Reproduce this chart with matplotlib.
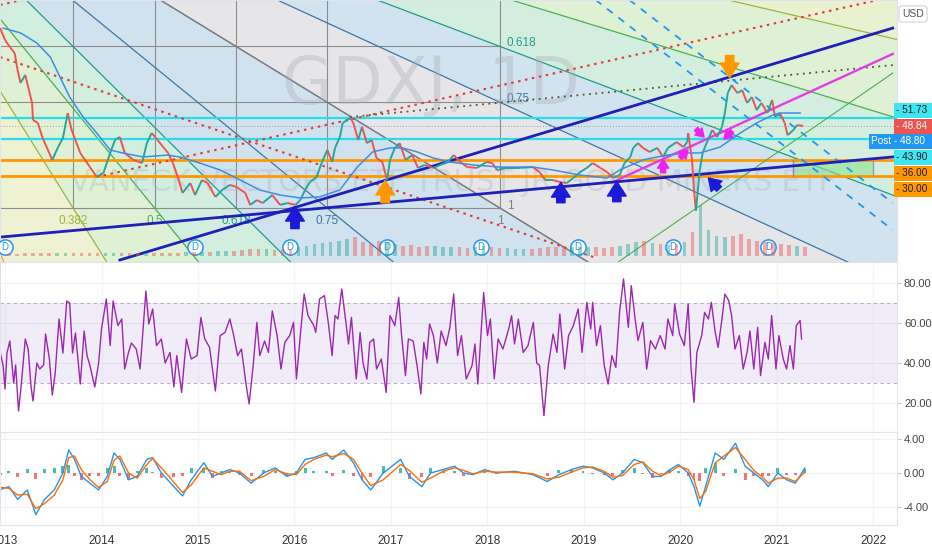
import numpy as np
import matplotlib.pyplot as plt
from matplotlib.collections import LineCollection
from matplotlib.patches import Rectangle, Polygon

plt.rcParams['font.family'] = ['Liberation Sans', 'DejaVu Sans']

# ---- price (close), fractional years ----
price_t = [2012.95, 2013.00, 2013.05, 2013.10, 2013.13, 2013.16, 2013.21, 2013.24, 2013.28, 2013.29,
           2013.34, 2013.39, 2013.49, 2013.55, 2013.60, 2013.65, 2013.69, 2013.78, 2013.88, 2013.95,
           2014.02, 2014.09, 2014.14, 2014.19, 2014.24, 2014.33, 2014.42, 2014.47, 2014.52, 2014.58,
           2014.64, 2014.69, 2014.74, 2014.79, 2014.84, 2014.92, 2014.97, 2015.04, 2015.10, 2015.18,
           2015.25, 2015.33, 2015.40, 2015.49, 2015.54, 2015.61, 2015.67, 2015.77, 2015.85, 2015.93,
           2016.01, 2016.06, 2016.11, 2016.16, 2016.23, 2016.28, 2016.34, 2016.39, 2016.42, 2016.47,
           2016.50, 2016.58, 2016.61, 2016.66, 2016.70, 2016.75, 2016.80, 2016.85, 2016.91, 2016.96,
           2016.99, 2017.04, 2017.09, 2017.15, 2017.22, 2017.28, 2017.35, 2017.44, 2017.51, 2017.59,
           2017.65, 2017.72, 2017.79, 2017.89, 2017.99, 2018.05, 2018.10, 2018.20, 2018.34, 2018.47,
           2018.54, 2018.60, 2018.68, 2018.75, 2018.82, 2018.89, 2018.96, 2019.03, 2019.09, 2019.17,
           2019.24, 2019.30, 2019.37, 2019.42, 2019.48, 2019.51, 2019.56, 2019.61, 2019.68, 2019.76,
           2019.82, 2019.87, 2019.96, 2020.03, 2020.07, 2020.08, 2020.12, 2020.14, 2020.16, 2020.20,
           2020.23, 2020.27, 2020.33, 2020.38, 2020.43, 2020.46, 2020.49, 2020.53, 2020.59, 2020.64,
           2020.69, 2020.74, 2020.79, 2020.84, 2020.90, 2020.95, 2020.98, 2021.03, 2021.08, 2021.11,
           2021.17, 2021.21, 2021.27]
price_v = [85.6, 81.1, 78.5, 76.2, 69.9, 65.0, 68.0, 63.5, 57.5, 51.1,
           50.0, 44.3, 36.1, 40.9, 44.3, 53.7, 47.3, 38.7, 33.4, 29.7,
           31.2, 38.7, 43.6, 44.7, 38.7, 36.1, 34.9, 42.4, 46.2, 43.6,
           40.9, 38.7, 34.9, 29.7, 23.7, 27.4, 22.9, 28.5, 27.4, 22.2,
           24.8, 26.7, 25.9, 23.7, 19.2, 21.0, 19.9, 22.9, 19.2, 19.9,
           19.2, 21.0, 24.8, 27.8, 29.7, 34.9, 39.8, 35.3, 40.6, 44.7,
           50.0, 51.8, 50.0, 43.6, 48.5, 42.4, 43.6, 36.8, 35.3, 28.5,
           36.1, 40.6, 42.4, 36.1, 37.9, 33.1, 34.2, 33.1, 34.2, 35.3,
           37.9, 35.3, 33.4, 33.1, 35.3, 34.9, 32.3, 33.1, 33.1, 33.4,
           31.5, 28.5, 28.5, 27.8, 27.4, 29.3, 31.5, 33.1, 34.9, 33.1,
           31.5, 29.3, 30.4, 34.9, 37.2, 40.6, 42.4, 40.6, 39.1, 40.6,
           37.2, 40.6, 42.8, 40.9, 42.8, 46.2, 36.1, 24.8, 17.0, 32.3,
           38.7, 42.4, 47.3, 44.7, 48.5, 53.7, 61.2, 64.2, 61.2, 62.3,
           57.5, 59.7, 54.8, 57.5, 53.7, 58.6, 52.2, 53.7, 50.0, 45.4,
           47.3, 49.2, 48.84]

# ---- moving average (blue) ----
ma_t = [2012.98, 2013.16, 2013.33, 2013.47, 2013.57, 2013.67, 2013.81, 2013.95, 2014.09, 2014.22,
        2014.43, 2014.68, 2014.81, 2015.02, 2015.23, 2015.44, 2015.64, 2015.85, 2016.06, 2016.26,
        2016.47, 2016.65, 2016.81, 2016.99, 2017.12, 2017.27, 2017.44, 2017.61, 2017.85, 2018.13,
        2018.47, 2018.68, 2018.96, 2019.24, 2019.37, 2019.61, 2019.86, 2020.07, 2020.20, 2020.41,
        2020.62, 2020.79, 2020.96, 2021.03, 2021.24]
ma_v = [85.6, 83.8, 80.0, 74.7, 67.2, 59.7, 52.2, 46.2, 39.8, 38.7,
        37.2, 37.9, 37.2, 34.9, 32.3, 28.5, 24.8, 22.9, 21.8, 22.2,
        24.8, 33.4, 39.1, 40.6, 40.6, 39.1, 36.8, 35.3, 34.2, 33.4,
        33.4, 32.3, 30.4, 29.3, 32.3, 36.1, 37.9, 38.7, 38.7, 40.9,
        46.2, 50.0, 53.0, 53.7, 53.7]

# ---- monthly volume (relative), Jan 2013 .. Apr 2021 ----
vol_start = 2013.0
volume = [2, 2, 3, 3, 3, 3, 3, 3, 3, 3, 3, 3,
          3, 3, 3, 3, 3, 3, 4, 4, 4, 4, 5, 5,
          5, 5, 6, 6, 6, 7, 8, 8, 8, 7, 8, 8,
          10, 12, 14, 15, 16, 18, 20, 22, 16, 14, 18, 16,
          14, 12, 13, 11, 12, 12, 11, 10, 10, 9, 10, 12,
          10, 9, 9, 8, 8, 8, 9, 10, 10, 10, 11, 10,
          10, 10, 9, 10, 12, 14, 16, 18, 15, 14, 13, 14,
          16, 28, 60, 30, 24, 22, 24, 26, 20, 18, 17, 15,
          14, 13, 12, 10]

# ---- RSI ----
rsi_t = [2012.95, 2012.98, 2013.00, 2013.02, 2013.05, 2013.09, 2013.11, 2013.14, 2013.17, 2013.21,
         2013.24, 2013.27, 2013.29, 2013.33, 2013.36, 2013.40, 2013.42, 2013.46, 2013.49, 2013.52,
         2013.56, 2013.60, 2013.64, 2013.67, 2013.70, 2013.73, 2013.78, 2013.82, 2013.85, 2013.88,
         2013.93, 2013.97, 2014.00, 2014.05, 2014.09, 2014.12, 2014.17, 2014.21, 2014.24, 2014.28,
         2014.31, 2014.36, 2014.40, 2014.46, 2014.49, 2014.53, 2014.57, 2014.62, 2014.66, 2014.71,
         2014.75, 2014.78, 2014.83, 2014.88, 2014.93, 2014.99, 2015.03, 2015.07, 2015.12, 2015.18,
         2015.23, 2015.28, 2015.33, 2015.37, 2015.41, 2015.45, 2015.50, 2015.53, 2015.57, 2015.61,
         2015.64, 2015.69, 2015.73, 2015.77, 2015.82, 2015.86, 2015.90, 2015.95, 2015.99, 2016.02,
         2016.06, 2016.10, 2016.14, 2016.20, 2016.22, 2016.26, 2016.31, 2016.35, 2016.39, 2016.42,
         2016.45, 2016.49, 2016.52, 2016.56, 2016.59, 2016.64, 2016.68, 2016.71, 2016.75, 2016.78,
         2016.82, 2016.85, 2016.90, 2016.95, 2016.99, 2017.04, 2017.08, 2017.11, 2017.15, 2017.18,
         2017.23, 2017.27, 2017.31, 2017.34, 2017.37, 2017.40, 2017.44, 2017.48, 2017.52, 2017.57,
         2017.61, 2017.65, 2017.69, 2017.73, 2017.78, 2017.84, 2017.87, 2017.90, 2017.96, 2018.00,
         2018.03, 2018.07, 2018.11, 2018.16, 2018.22, 2018.25, 2018.28, 2018.32, 2018.37, 2018.42,
         2018.475, 2018.51, 2018.54, 2018.585, 2018.63, 2018.68, 2018.72, 2018.75, 2018.80, 2018.84,
         2018.89, 2018.94, 2018.98, 2019.03, 2019.07, 2019.09, 2019.13, 2019.17, 2019.21, 2019.25,
         2019.29, 2019.33, 2019.37, 2019.41, 2019.46, 2019.49, 2019.53, 2019.56, 2019.61, 2019.65,
         2019.69, 2019.74, 2019.79, 2019.84, 2019.87, 2019.92, 2019.94, 2019.99, 2020.04, 2020.08,
         2020.11, 2020.14, 2020.17, 2020.22, 2020.25, 2020.29, 2020.32, 2020.36, 2020.39, 2020.43,
         2020.46, 2020.50, 2020.53, 2020.565, 2020.61, 2020.65, 2020.69, 2020.72, 2020.76, 2020.80,
         2020.83, 2020.875, 2020.91, 2020.945, 2020.99, 2021.02, 2021.065, 2021.10, 2021.135, 2021.17,
         2021.20, 2021.24, 2021.255]
rsi_v = [45.3, 38.7, 27, 45, 51, 30, 39, 16, 30, 52,
         47, 28, 21, 40, 37, 39, 54.5, 42, 24, 35,
         62, 45, 71, 70, 45, 55, 29.5, 56, 43.7, 38.7,
         28, 40, 57, 72, 48.7, 71, 58.7, 62, 37, 45.3,
         50, 47, 37, 76, 59.5, 67, 48.7, 52, 40, 45.3,
         28, 43.7, 25.3, 52, 42, 43.7, 62.8, 52, 47.8, 26,
         53.7, 55.3, 62, 53.7, 43.7, 47, 28.7, 19.5, 37.8, 60.3,
         43.7, 51, 45.3, 66, 53.7, 37, 50.3, 53.7, 60.3, 32,
         53.7, 74.5, 63.7, 58.7, 55.3, 72, 73.7, 60.3, 43.7, 63.7,
         62, 77, 65.3, 49.5, 62.8, 32, 55.3, 40, 32, 50.3,
         52, 37, 42, 25.3, 63.7, 58.7, 72.8, 53.7, 33.7, 52,
         51, 38.7, 24.5, 50.3, 42, 59.5, 53.7, 40, 56, 48.7,
         57.8, 74.5, 43.7, 53.7, 32, 38.7, 49.5, 29.5, 75.3, 53.7,
         62, 32, 52, 47, 57, 63.7, 49.5, 62, 45.3, 48.7,
         60.3, 40, 38.7, 13.7, 38.7, 54.5, 45.3, 64.5, 37, 53.7,
         58.7, 67, 45.3, 70.3, 57, 70.3, 48.7, 58.7, 38.7, 29.5,
         43.7, 37.8, 66, 82, 57.8, 78.7, 62, 51.2, 60.3, 37,
         51.2, 47, 53.7, 47, 62, 53.7, 69.5, 54.5, 48.7, 69.5,
         37, 20.3, 45.3, 53.7, 65.3, 62, 70.3, 55.3, 47.8, 62,
         74.5, 71.2, 63.7, 47, 53.7, 37, 45.3, 56, 37, 57.8,
         33.7, 50.3, 42, 63.7, 37, 53.7, 42, 37, 48.7, 37,
         58.7, 61.2, 52]

# ---- MACD ----
macd_t = [2012.95, 2013.04, 2013.13, 2013.23, 2013.32, 2013.41, 2013.51, 2013.60, 2013.66, 2013.72,
          2013.79, 2013.88, 2013.97, 2014.06, 2014.13, 2014.19, 2014.28, 2014.37, 2014.47, 2014.53,
          2014.62, 2014.75, 2014.84, 2014.93, 2015.06, 2015.15, 2015.24, 2015.33, 2015.43, 2015.55,
          2015.68, 2015.80, 2015.92, 2016.02, 2016.11, 2016.20, 2016.33, 2016.39, 2016.51, 2016.61,
          2016.70, 2016.79, 2016.92, 2017.10, 2017.19, 2017.32, 2017.41, 2017.54, 2017.66, 2017.75,
          2017.85, 2017.97, 2018.09, 2018.28, 2018.47, 2018.62, 2018.74, 2018.87, 2018.99, 2019.09,
          2019.21, 2019.30, 2019.40, 2019.52, 2019.61, 2019.71, 2019.80, 2019.89, 2019.98, 2020.08,
          2020.14, 2020.20, 2020.26, 2020.36, 2020.45, 2020.57, 2020.67, 2020.76, 2020.85, 2020.91,
          2021.01, 2021.10, 2021.19, 2021.29]
macd_v = [-1.96, -1.6, -3.1, -2.0, -4.9, -3.1, -2.0, 0.0, 2.7, 1.6,
          -0.4, -1.2, -2.0, -0.4, 2.35, 1.6, -0.8, -0.4, 1.6, 1.8,
          0.0, -1.6, -2.7, -0.8, 1.2, -0.4, 0.0, 0.4, 0.0, -1.2,
          0.0, 0.6, -0.4, 0.0, 1.6, 1.8, 2.35, 1.6, 2.7, 1.2,
          -0.8, -2.0, 0.0, 1.6, -0.4, -1.6, 0.0, 0.4, 0.8, 0.0,
          -0.2, 0.4, 0.0, 0.2, -0.2, -1.0, -0.2, 0.4, 0.8, 0.6,
          0.0, -0.8, 0.0, 1.6, 1.2, -0.4, -0.4, 0.4, 1.0, 0.0,
          -1.6, -3.9, -1.6, 2.35, 1.6, 3.5, 0.8, 0.0, -0.8, -1.6,
          0.0, -0.8, -1.2, 0.6]
signal_v = [-1.7, -1.8, -2.6, -2.5, -4.2, -3.6, -2.6, -0.8, 1.8, 2.0,
            0.4, -0.8, -1.7, -1.0, 1.5, 2.0, 0.0, -0.6, 1.0, 1.7,
            0.6, -1.1, -2.3, -1.4, 0.6, 0.2, -0.2, 0.2, 0.2, -0.9,
            -0.4, 0.4, -0.1, -0.2, 1.0, 1.6, 2.1, 1.9, 2.3, 1.6,
            0.0, -1.5, -0.8, 1.0, 0.3, -1.1, -0.6, 0.2, 0.6, 0.3,
            -0.1, 0.2, 0.1, 0.1, -0.1, -0.7, -0.5, 0.1, 0.6, 0.7,
            0.2, -0.5, -0.3, 1.0, 1.3, 0.2, -0.3, 0.1, 0.8, 0.4,
            -0.8, -3.0, -2.2, 1.2, 2.0, 3.0, 1.6, 0.3, -0.5, -1.2,
            -0.6, -0.6, -1.0, 0.1]

# ---- drawing tools (year, price) ----
fan_a = (2010.97, 176.9)
fan_b = (2018.13, 18.0)
fan_levels = [0.25, 0.382, 0.5, 0.618, 0.75, 1.0]
fan_colors = {0.25: '#f0a030', 0.382: '#9db43c', 0.5: '#4caf50', 0.618: '#1f9e8a',
              0.75: '#3d76a8', 1.0: '#7b7d85'}
region_colors = ['#f4efdc', '#eef1d2', '#def1d4', '#d2eedf', '#cfe2ee', '#d0e2ee',
                 '#e6e6e9', '#d0e3ef', '#d3eede', '#def1d4', '#eaf1d0', '#f3f0da']

red_dotted = [((2012.95, 74.7), (2019.10, -0.4)),
              ((2013.95, 29.7), (2022.05, 96.2)),
              ((2012.95, 94.3), (2013.18, 96.2))]
olive_dotted = ((2016.575, 52.2), (2022.20, 71.7))
navy_lines = [((2012.95, 7.1), (2022.20, 37.2)),
              ((2014.19, -1.5), (2022.20, 85.6))]
magenta_line = ((2019.30, 27.8), (2022.20, 75.9))
green_line = ((2019.34, -2.6), (2022.20, 68.7))
dashed_lines = [((2019.12, 96.2), (2022.20, 9.8)),
                ((2019.47, 96.2), (2022.20, 19.9))]
cyan_levels = [51.73, 43.90]
orange_levels = [36.00, 30.00]
box_t = (2021.17, 2022.00)
last_price = 48.84
div_dates = [2013.0, 2014.97, 2015.95, 2016.96, 2017.93, 2018.94, 2019.92, 2020.91]

# arrows: (tail, tip, colour, size)
arrows = [((2016.005, 10.3), (2016.005, 18.6), '#1a1ad8', 15),
          ((2018.76, 20.0), (2018.76, 27.6), '#1a1ad8', 15),
          ((2019.34, 20.4), (2019.34, 28.0), '#1a1ad8', 15),
          ((2020.40, 25.2), (2020.29, 29.3), '#1a1ad8', 12),
          ((2016.94, 20.0), (2016.94, 28.4), '#ff9800', 15),
          ((2020.51, 75.3), (2020.51, 67.0), '#ff9800', 15),
          ((2019.82, 31.3), (2019.82, 36.3), '#ee22ee', 9),
          ((2019.995, 36.8), (2020.078, 39.8), '#ee22ee', 8),
          ((2020.161, 47.7), (2020.244, 44.7), '#ee22ee', 8),
          ((2020.534, 46.9), (2020.451, 43.9), '#ee22ee', 8)]

years = list(range(2013, 2023))

# ---------------------------------------------------------------
FW, FH = 932, 550
fig = plt.figure(figsize=(FW / 100, FH / 100), dpi=100)
W = 897 / FW
ax = fig.add_axes([0, 1 - 262 / FH, W, 262 / FH])
ax_rsi = fig.add_axes([0, 1 - 432 / FH, W, 170 / FH], sharex=ax)
ax_macd = fig.add_axes([0, 1 - 525 / FH, W, 93 / FH], sharex=ax)

XMIN, XMAX = 2012.948, 2022.244
ax.set_xlim(XMIN, XMAX)
ax.set_ylim(-2.25, 96.15)
ax_rsi.set_ylim(5.5, 90.5)
ax_macd.set_ylim(-6.12, 4.82)

for a in (ax, ax_rsi, ax_macd):
    for s in a.spines.values():
        s.set_color('#e0e3eb')
        s.set_linewidth(0.8)
    a.yaxis.tick_right()
    a.tick_params(axis='y', labelsize=8, colors='#444444', length=3, pad=2)
    a.tick_params(axis='y', color='#c8c8c8')
    a.tick_params(axis='x', length=0)
    a.set_facecolor('white')
ax.tick_params(axis='x', labelbottom=False)
ax_rsi.tick_params(axis='x', labelbottom=False)
ax_macd.set_xticks(years)
ax_macd.set_xticklabels([str(y) for y in years])
ax_macd.tick_params(axis='x', labelsize=8.5, colors='#333333', pad=7)

# --- fib speed resistance fan ---
tA, pA = fan_a
tB, pB = fan_b
rays = [(tA, pB)]
for lv in fan_levels:
    rays.append((tA + lv * (tB - tA), pB))
for lv in reversed(fan_levels[:-1]):
    rays.append((tB, pA + lv * (pB - pA)))
rays.append((tB, pA))


def far(pt, k=12):
    return (tA + k * (pt[0] - tA), pA + k * (pt[1] - pA))


for i in range(len(rays) - 1):
    poly = Polygon([fan_a, far(rays[i]), far(rays[i + 1])], closed=True,
                   facecolor=region_colors[i], edgecolor='none', zorder=0)
    ax.add_patch(poly)

for lv in fan_levels:
    c = fan_colors[lv]
    pt = (tA + lv * (tB - tA), pB)
    f = far(pt)
    ax.plot([tA, f[0]], [pA, f[1]], color=c, lw=0.9, zorder=1.2)
    pt2 = (tB, pA + lv * (pB - pA))
    f2 = far(pt2)
    ax.plot([tA, f2[0]], [pA, f2[1]], color=c, lw=0.9, zorder=1.2)
    # grid of the fan box
    ax.plot([pt[0], pt[0]], [pA, pB], color='#8c8c8c', lw=0.8, zorder=1.1)
    ax.plot([tA, tB], [pt2[1], pt2[1]], color='#8c8c8c', lw=0.8, zorder=1.1)
    if lv >= 0.382:
        ax.text(pt[0], 13.3, ('%g' % lv), color=c, fontsize=8.5, ha='center', va='center', zorder=1.3)
    if lv >= 0.618:
        ax.text(tB + 0.07, pt2[1] + (1.2 if lv < 1 else 0.6), ('%g' % lv), color=c, fontsize=8.5,
                ha='left', va='center', zorder=1.3)

# watermark
ax.text(0.48, 0.67, 'GDXJ, 1D', transform=ax.transAxes, fontsize=47, color='#a8abb3',
        alpha=0.35, ha='center', va='center', zorder=1.5, family='DejaVu Sans')
ax.text(0.505, 0.305, 'VANECK VECTORS ETF TRUST JR GOLD MINERS ETF', transform=ax.transAxes,
        fontsize=21.5, color='#a8abb3', alpha=0.3, ha='center', va='center', zorder=1.5,
        family='DejaVu Sans')

# horizontal levels
for lv in cyan_levels:
    ax.axhline(lv, color='#27dcec', lw=1.6, zorder=2)
for lv in orange_levels:
    ax.axhline(lv, color='#ff9800', lw=2, zorder=2)
ax.axhline(last_price, color='#9a9a9a', lw=0.7, ls=(0, (1, 2)), zorder=2)
ax.add_patch(Rectangle((box_t[0], orange_levels[1]), box_t[1] - box_t[0],
                       orange_levels[0] - orange_levels[1], facecolor='#8fe38f', alpha=0.6,
                       edgecolor='none', zorder=1.9))
ax.plot([box_t[0], box_t[0]], orange_levels, color='#b070c0', lw=1, zorder=2)
ax.plot([box_t[1], box_t[1]], orange_levels, color='#9a9aa0', lw=1, zorder=2)

# trend lines
for (p0, p1) in red_dotted:
    ax.plot([p0[0], p1[0]], [p0[1], p1[1]], color='#e53935', lw=1.5, ls=(0, (1.2, 2.2)), zorder=2)
ax.plot([olive_dotted[0][0], olive_dotted[1][0]], [olive_dotted[0][1], olive_dotted[1][1]],
        color='#4a5a2a', lw=1.3, ls=(0, (1, 2.5)), zorder=2)
for (p0, p1) in dashed_lines:
    ax.plot([p0[0], p1[0]], [p0[1], p1[1]], color='#2196f3', lw=1.3, ls=(0, (4, 4)), zorder=2)
ax.plot([green_line[0][0], green_line[1][0]], [green_line[0][1], green_line[1][1]],
        color='#4caf50', lw=0.8, zorder=2)
ax.plot([magenta_line[0][0], magenta_line[1][0]], [magenta_line[0][1], magenta_line[1][1]],
        color='#e63ce6', lw=1.7, zorder=2.1)
for (p0, p1) in navy_lines:
    ax.plot([p0[0], p1[0]], [p0[1], p1[1]], color='#2020b8', lw=2, zorder=2.2)

# volume on its own scale
ax_vol = ax.twinx()
ax_vol.set_ylim(-7, 300)
ax_vol.axis('off')
vt = np.array([vol_start + (i + 0.5) / 12 for i in range(len(volume))])
p_open = np.interp(vt - 1 / 24, price_t, price_v)
p_close = np.interp(vt + 1 / 24, price_t, price_v)
vcol = ['#26a69a' if c >= o else '#ef5350' for o, c in zip(p_open, p_close)]
ax_vol.bar(vt, volume, width=0.45 / 12, color=vcol, alpha=0.45, zorder=1)

# price path + MA
pts = np.column_stack([price_t, price_v])
segs = np.stack([pts[:-1], pts[1:]], axis=1)
cols = ['#26a69a' if b >= a else '#ef5350' for a, b in zip(price_v[:-1], price_v[1:])]
ax.add_collection(LineCollection(segs, colors=cols, linewidths=1.4, zorder=3))
ax.plot(ma_t, ma_v, color='#3d8fe0', lw=1.1, zorder=3)

# dividend markers
ax.scatter(div_dates, [3.4] * len(div_dates), s=120, facecolor='white', edgecolor='#2196f3',
           linewidth=1.1, zorder=4, clip_on=False)
for d in div_dates:
    ax.text(d, 3.4, 'D', color='#2196f3', fontsize=7, ha='center', va='center', zorder=4.1)

# arrows
for tail, tip, c, ms in arrows:
    ax.annotate('', xy=tip, xytext=tail, zorder=5,
                arrowprops=dict(arrowstyle='simple,head_length=0.7,head_width=0.9,tail_width=0.4',
                                color=c, shrinkA=0, shrinkB=0, mutation_scale=ms))

ax.set_yticks([0, 20, 60, 80])
ax.set_yticklabels(['0.00', '20.00', '60.00', '80.00'])

# right-axis tags (pixel layout)
def tag(yc, text, bg, fg, x0=894, x1=932):
    fig.add_artist(Rectangle((x0 / FW, 1 - (yc + 7.5) / FH), (x1 - x0) / FW, 15 / FH,
                             transform=fig.transFigure, facecolor=bg, edgecolor='none', zorder=10))
    fig.text((x0 + 2) / FW, 1 - yc / FH, text, color=fg, fontsize=7.2, ha='left', va='center',
             zorder=11)


tag(110, '- %.2f' % cyan_levels[0], '#3ee6f2', '#1a1a1a')
tag(126, '- %.2f' % last_price, '#ef5350', 'white')
tag(141, 'Post - 48.80', '#2196f3', 'white', x0=869)
tag(157, '- %.2f' % cyan_levels[1], '#3ee6f2', '#1a1a1a')
tag(173, '- %.2f' % orange_levels[0], '#ff9800', '#1a1a1a')
tag(189, '- %.2f' % orange_levels[1], '#ff9800', '#1a1a1a')
fig.text(913 / FW, 1 - 14 / FH, 'USD', fontsize=7.5, color='#555555', ha='center', va='center',
         bbox=dict(boxstyle='round,pad=0.3', facecolor='white', edgecolor='#d0d3db', lw=0.8))

# RSI pane
for y in (20, 40, 60, 80):
    ax_rsi.axhline(y, color='#f0f1f5', lw=0.8, zorder=0)
for y in years:
    ax_rsi.axvline(y, color='#f3f4f7', lw=0.8, zorder=0)
    ax_macd.axvline(y, color='#f3f4f7', lw=0.8, zorder=0)
ax_rsi.axhspan(30, 70, color='#7e57c2', alpha=0.1, lw=0, zorder=0.5)
ax_rsi.axhline(70, color='#b8aecb', lw=0.8, ls=(0, (3, 3)), zorder=0.6)
ax_rsi.axhline(30, color='#b8aecb', lw=0.8, ls=(0, (3, 3)), zorder=0.6)
ax_rsi.plot(rsi_t, rsi_v, color='#9c27b0', lw=1.0, zorder=2)
ax_rsi.set_yticks([20, 40, 60, 80])
ax_rsi.set_yticklabels(['20.00', '40.00', '60.00', '80.00'])

# MACD pane
for y in (-4, 0, 4):
    ax_macd.axhline(y, color='#f0f1f5', lw=0.8, zorder=0)
hist = np.array(macd_v) - np.array(signal_v)
hcol = ['#26a69a' if h >= 0 else '#ef5350' for h in hist]
ax_macd.bar(macd_t, hist, width=0.03, color=hcol, alpha=0.8, zorder=1)
ax_macd.plot(macd_t, macd_v, color='#2196f3', lw=1.0, zorder=2)
ax_macd.plot(macd_t, signal_v, color='#ff6d00', lw=1.0, zorder=2.1)
ax_macd.set_yticks([-4, 0, 4])
ax_macd.set_yticklabels(['-4.00', '0.00', '4.00'])

fig.savefig('out.png', dpi=100)
